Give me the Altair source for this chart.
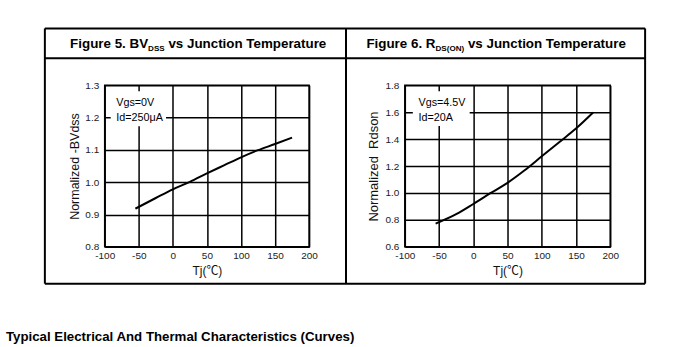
import altair as alt
import pandas as pd

# ---------------- data ----------------
temps = [-55, -25, 0, 25, 50, 75, 100, 125, 150, 175]
bvdss = [0.918, 0.951, 0.978, 1.001, 1.027, 1.052, 1.077, 1.099, 1.118, 1.138]
rdson = [0.772, 0.842, 0.918, 0.998, 1.075, 1.168, 1.272, 1.375, 1.478, 1.597]

x_ticks = [-100, -50, 0, 50, 100, 150, 200]
bv_ticks = [0.8, 0.9, 1.0, 1.1, 1.2, 1.3]
rd_ticks = [0.6, 0.8, 1.0, 1.2, 1.4, 1.6, 1.8]

bv_note = ["Vgs=0V", "Id=250\u03bcA"]
rd_note = ["Vgs=4.5V", "Id=20A"]

FONT = "Liberation Sans, Arial, Noto Sans CJK SC, DejaVu Sans"
W1, W2, H = 205, 206, 162
one = pd.DataFrame({"k": [0]})


def panel(vals, yticks, ydom, ytitle, w, note, note_x, note_y, box, ytsize, ytpad):
    df = pd.DataFrame({"Tj": temps, "v": vals})
    xs = alt.Scale(domain=[-100, 200], nice=False, zero=False)
    ys = alt.Scale(domain=ydom, nice=False, zero=False)
    xax = alt.Axis(values=x_ticks, title="Tj(\u2103)", grid=True, gridColor="black",
                   gridWidth=1.5, domain=False, ticks=False, labelFontSize=10,
                   labelPadding=4, labelFont=FONT, labelColor="#222", labelFlush=False,
                   labelOverlap=False, labelExpr="'' + datum.value",
                   titleFont=FONT, titleFontSize=12,
                   titleFontWeight="normal", titleColor="#111", titlePadding=5)
    yax = alt.Axis(values=yticks, title=ytitle, grid=True, gridColor="black",
                   gridWidth=1.5, domain=False, ticks=False, labelFontSize=10,
                   labelPadding=6, labelFont=FONT, labelColor="#222", labelFlush=False,
                   labelOverlap=False, labelExpr="format(datum.value, '.1f')",
                   titleFont=FONT, titleFontSize=ytsize,
                   titleFontWeight="normal", titleColor="#111", titlePadding=ytpad)
    line = alt.Chart(df).mark_line(color="black", strokeWidth=2, interpolate="monotone").encode(
        x=alt.X("Tj:Q", scale=xs, axis=xax),
        y=alt.Y("v:Q", scale=ys, axis=yax),
    )
    bdf = pd.DataFrame({"bx1": [box[0]], "bx2": [box[1]], "by1": [box[2]], "by2": [box[3]]})
    rect = alt.Chart(bdf).mark_rect(color="white").encode(
        x=alt.X("bx1:Q", scale=xs, axis=xax), x2="bx2:Q",
        y=alt.Y("by1:Q", scale=ys, axis=yax), y2="by2:Q",
    )
    ndf = pd.DataFrame({"nx": [note_x, note_x], "ny": note_y, "t": note})
    txt = alt.Chart(ndf).mark_text(align="left", baseline="alphabetic", fontSize=10.8,
                                   font=FONT, color="black").encode(
        x=alt.X("nx:Q", scale=xs, axis=xax),
        y=alt.Y("ny:Q", scale=ys, axis=yax),
        text="t:N",
    )
    return [line, rect, txt], w


def rule(x1, x2, y1, y2):
    return alt.Chart(one).mark_rule(color="black", strokeWidth=2).encode(
        x=alt.value(x1), x2=alt.value(x2), y=alt.value(y1), y2=alt.value(y2))


def label(s, x, y, size, weight="bold"):
    return alt.Chart(one).mark_text(text=s, align="left", baseline="alphabetic",
                                    fontSize=size, fontWeight=weight, font=FONT,
                                    color="black").encode(x=alt.value(x), y=alt.value(y))


# decorations (pixel offsets relative to the first plot area)
canvas = alt.Chart(one).mark_rect(fillOpacity=0, opacity=0).encode(
    x=alt.value(-104), x2=alt.value(579), y=alt.value(-84), y2=alt.value(263))
frame = [
    rule(-60, 542, -57, -57),
    rule(-60, 542, -27, -27),
    rule(-60, 542, 199, 199),
    rule(-60, -60, -57, 199),
    rule(242, 242, -57, 199),
    rule(542, 542, -57, 199),
]
titles = [
    label("Figure 5. BV", -34.7, -37.3, 13.4),
    label("DSS", 43.5, -34.6, 8.1),
    label("vs Junction Temperature", 63.9, -37.3, 13.4),
    label("Figure 6. R", 262.5, -37.3, 13.4),
    label("DS(ON)", 331.8, -34.6, 8.1),
    label("vs Junction Temperature", 364.3, -37.3, 13.4),
    label("Typical Electrical And Thermal Characteristics (Curves)", -99, 256, 13.3),
]

l1, w1 = panel(bvdss, bv_ticks, [0.8, 1.3], "Normalized -BVdss", W1, bv_note,
               -83, [1.235, 1.189], (-91.2, -10, 1.1735, 1.2815), 12.5, 3)
l2, w2 = panel(rdson, rd_ticks, [0.6, 1.8], "Normalized\u00a0 Rdson", W2, rd_note,
               -80, [1.645, 1.535], (-88.3, -5.3, 1.498, 1.756), 13, 4)

p1 = alt.layer(*l1, canvas, *frame, *titles).properties(width=w1, height=H)
p2 = alt.layer(*l2).properties(width=w2, height=H)

chart = alt.hconcat(p1, p2, spacing=96, bounds="flush").properties(
    padding=0, background="white"
).configure_view(stroke="black", strokeWidth=1.5)

chart.save("out.html", embed_options={"renderer": "svg", "actions": False})
